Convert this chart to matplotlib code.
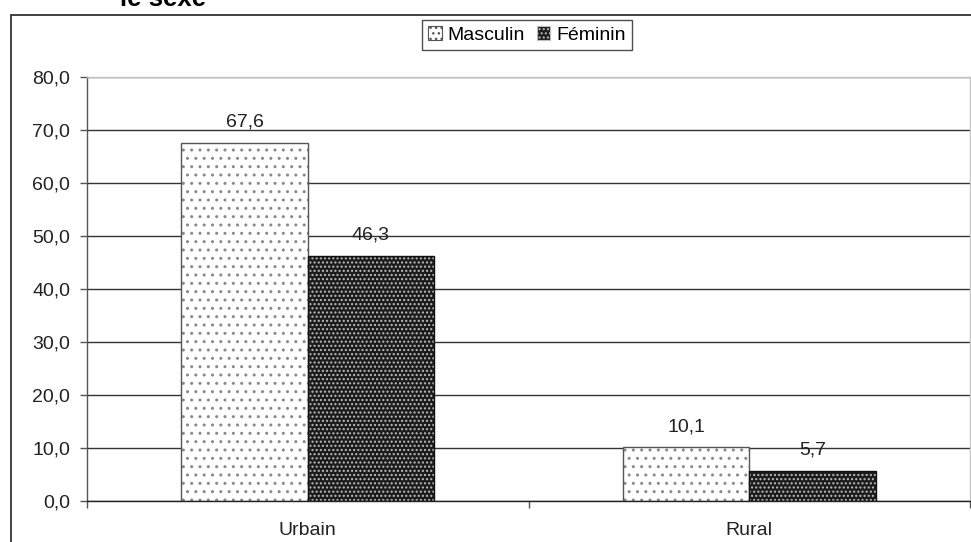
"""Répartition par milieu de résidence selon le sexe (graphique en barres)."""

import matplotlib
matplotlib.use("Agg")
import matplotlib.pyplot as plt
from matplotlib.patches import Patch, Rectangle
from matplotlib.ticker import FuncFormatter, FixedLocator

plt.rcParams["font.family"] = ["Liberation Sans", "DejaVu Sans"]

categories = ["Urbain", "Rural"]
series_names = ["Masculin", "Féminin"]
masculin = [67.6, 10.1]
feminin = [46.3, 5.7]
y_ticks = [0, 10, 20, 30, 40, 50, 60, 70, 80]


def fr_fmt(v, pos=None):
    return f"{v:.1f}".replace(".", ",")


fig = plt.figure(figsize=(9.71, 5.42), dpi=100)
ax = fig.add_axes([87 / 971, 41 / 542, 883 / 971, 424 / 542])

x = list(range(len(categories)))
w = 0.2865
xm = [i - w / 2 for i in x]
xf = [i + w / 2 for i in x]

# Masculin : fond blanc avec points gris
ax.bar(xm, masculin, w, color="white", edgecolor="#8a8a8a", hatch="..",
       linewidth=0, zorder=2)
ax.bar(xm, masculin, w, fill=False, edgecolor="#555555", linewidth=1, zorder=3)

# Féminin : fond sombre avec points clairs
ax.bar(xf, feminin, w, color="#1c1c1c", edgecolor="#bdbdbd", hatch="....",
       linewidth=0, zorder=2)
ax.bar(xf, feminin, w, fill=False, edgecolor="#111111", linewidth=1, zorder=3)

for xs, vals in ((xm, masculin), (xf, feminin)):
    for xi, v in zip(xs, vals):
        ax.annotate(fr_fmt(v), (xi, v), xytext=(0, 11.5), textcoords="offset points",
                    ha="center", va="baseline", fontsize=14, color="#222222")

ax.set_xlim(-0.5, len(categories) - 0.5)
ax.set_ylim(0, 80)
ax.set_yticks(y_ticks)
ax.yaxis.set_major_formatter(FuncFormatter(fr_fmt))
ax.set_xticks(x)
ax.set_xticklabels(categories)
ax.xaxis.set_minor_locator(FixedLocator([-0.5, 0.5, 1.5]))
ax.tick_params(axis="x", which="major", length=0, pad=15, labelsize=14, labelcolor="#222222")
ax.tick_params(axis="x", which="minor", length=5, width=1, color="#555555", direction="out")
ax.tick_params(axis="y", length=5, width=1, color="#555555", pad=7, labelsize=14,
               labelcolor="#222222")

ax.set_axisbelow(True)
ax.yaxis.grid(True, color="#333333", linewidth=1)
ax.spines["left"].set_color("#555555")
ax.spines["bottom"].set_color("#222222")
ax.spines["top"].set_color("#c4c4c4")
ax.spines["right"].set_color("#c4c4c4")
for s in ax.spines.values():
    s.set_linewidth(1)

handles = [
    Patch(facecolor="white", edgecolor="#555555", hatch="...", linewidth=0.8),
    Patch(facecolor="#1c1c1c", edgecolor="#bdbdbd", hatch="....", linewidth=0.8),
]
leg = fig.legend(handles, series_names, loc="center", bbox_to_anchor=(527 / 971, 1 - 35 / 542),
                 ncol=2, fontsize=14, frameon=True, fancybox=False, handlelength=0.7,
                 handleheight=0.7, handletextpad=0.3, columnspacing=0.6, borderpad=0.3,
                 borderaxespad=0)
leg.get_frame().set_edgecolor("#222222")
leg.get_frame().set_linewidth(1)

# cadre extérieur et titre coupé
fig.add_artist(Rectangle((11 / 971, -0.1), 1.2, 1.1 - 15 / 542, transform=fig.transFigure,
                         fill=False, edgecolor="#333333", linewidth=1.3))
fig.text(120 / 971, 1 - 6 / 542, "le sexe", fontsize=18.5, fontweight="bold",
         ha="left", va="baseline", color="black")

fig.savefig("out.png", dpi=100)
